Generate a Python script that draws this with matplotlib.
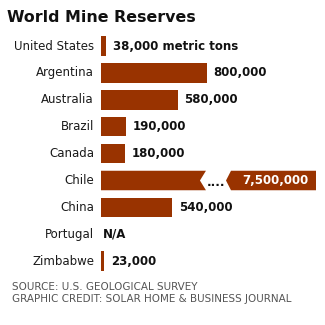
import numpy as np
import matplotlib.pyplot as plt
from matplotlib.patches import Polygon

countries = ["United States", "Argentina", "Australia", "Brazil", "Canada",
             "Chile", "China", "Portugal", "Zimbabwe"]
reserves = [38, 800, 580, 190, 180, 7500, 540, None, 23]   # thousand metric tons
labels = ["38,000 metric tons", "800,000", "580,000", "190,000", "180,000",
          "7,500,000", "540,000", "N/A", "23,000"]

BAR = "#993300"
PX = 0.132          # pixels per thousand tons
X0 = 101            # pixel where bars start
LIMIT = 1000        # bars longer than this are drawn broken
CAP = 795           # length drawn for a broken bar
ROW = 26.9
Y0 = 46
H = 0.725
FS = 8.5

fig = plt.figure(figsize=(3.25, 3.25), dpi=100)
ax = fig.add_axes([0, 0, 1, 1])
ax.set_xlim(-X0 / PX, (325 - X0) / PX)
ax.set_ylim((325 - Y0) / ROW, -Y0 / ROW)
ax.axis("off")

def px(x):
    return (x - X0) / PX

for i, (name, val, lab) in enumerate(zip(countries, reserves, labels)):
    ax.annotate(name, (0, i), xytext=(-7 * 0.72, 0), textcoords="offset points",
                ha="right", va="center", fontsize=FS, color="#1a1a1a")
    if val is None:
        ax.annotate(lab, (0, i), xytext=(2 * 0.72, 0), textcoords="offset points",
                    ha="left", va="center", fontsize=FS, fontweight="bold", color="#111")
        continue
    if val > LIMIT:
        notch = 6 / PX
        ax.add_patch(Polygon([(0, i - H / 2), (CAP, i - H / 2), (CAP - notch, i),
                              (CAP, i + H / 2), (0, i + H / 2)],
                             closed=True, color=BAR, lw=0))
        ax.text(CAP + 0.5 / PX, i + 0.08, "....", ha="left", va="center", fontsize=FS,
                fontweight="bold", color="#111")
        tip, corner, right = px(226), px(231), px(316)
        ax.add_patch(Polygon([(tip, i), (corner, i - H / 2), (right, i - H / 2),
                              (right, i + H / 2), (corner, i + H / 2)],
                             closed=True, color=BAR, lw=0))
        ax.text((corner + right) / 2 + 1.5 / PX, i, lab, ha="center", va="center",
                fontsize=FS, fontweight="bold", color="white")
        continue
    ax.barh(i, val, height=H, left=0, color=BAR)
    ax.annotate(lab, (val, i), xytext=(7 * 0.72, 0), textcoords="offset points",
                ha="left", va="center", fontsize=FS, fontweight="bold", color="#111")

fig.text(7 / 325, 1 - 17 / 325, "World Mine Reserves", ha="left", va="center",
         fontsize=11.4, fontweight="bold", color="#111")
fig.text(12 / 325, 1 - 287 / 325, "SOURCE: U.S. GEOLOGICAL SURVEY", ha="left",
         va="center", fontsize=7.5, color="#555")
fig.text(12 / 325, 1 - 299.5 / 325, "GRAPHIC CREDIT: SOLAR HOME & BUSINESS JOURNAL",
         ha="left", va="center", fontsize=7.5, color="#555")

fig.savefig("out.png", dpi=100)
